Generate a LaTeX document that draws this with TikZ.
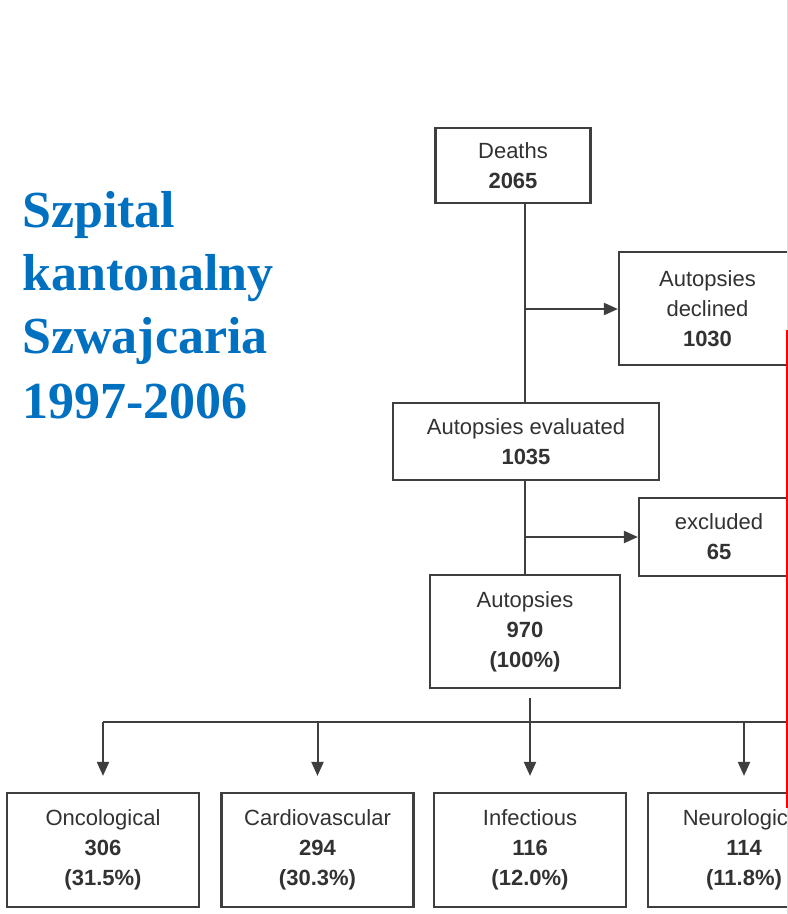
\documentclass[tikz,border=0pt]{standalone}
\usepackage{fontspec}
\setmainfont{Liberation Sans}
\newfontfamily\titlefont{Liberation Serif}
\usetikzlibrary{arrows.meta}
\definecolor{titleblue}{RGB}{0,112,192}
\definecolor{boxline}{RGB}{62,62,62}
\definecolor{boxtext}{RGB}{50,50,50}
\begin{document}
\begin{tikzpicture}[x=1pt,y=-1pt,
  box/.style={draw=boxline, line width=2.2pt, fill=white, rectangle, inner sep=0pt, align=center, text=boxtext, font=\fontsize{22}{30}\selectfont},
  catbox/.style={box, minimum width=192pt, minimum height=114pt},
  conn/.style={draw=boxline, line width=2pt},
  arr/.style={conn, -{Triangle[length=14pt,width=12pt]}},
  titletext/.style={anchor=base west, inner sep=0pt, text=titleblue, font=\titlefont\bfseries\fontsize{52}{63}\selectfont}]
\useasboundingbox (0,0) rectangle (788,914);
\clip (0,0) rectangle (788,914);
\fill[white] (0,0) rectangle (788,914);

% title
\node[titletext] (t1) at (22,227) {Szpital};
\node[titletext] (t2) at (22,290) {kantonalny};
\node[titletext] (t3) at (22,353) {Szwajcaria};
\node[titletext] (t4) at (22,418) {1997-2006};

% boxes
\node[box, minimum width=155pt, minimum height=75pt] (deaths) at (513,165.5) {Deaths\\\textbf{2065}};
\node[box, minimum width=177pt, minimum height=113pt] (declined) at (707.5,308.5) {Autopsies\\declined\\\textbf{1030}};
\node[box, minimum width=266pt, minimum height=77pt] (evaluated) at (526,441.5) {Autopsies evaluated\\\textbf{1035}};
\node[box, minimum width=160pt, minimum height=78pt] (excluded) at (719,537) {excluded\\\textbf{65}};
\node[box, minimum width=190pt, minimum height=113pt] (autopsies) at (525,631.5) {Autopsies\\\textbf{970}\\\textbf{(100\%)}};

\node[catbox] (onco) at (103,850) {Oncological\\\textbf{306}\\\textbf{(31.5\%)}};
\node[catbox] (cardio) at (317.5,850) {Cardiovascular\\\textbf{294}\\\textbf{(30.3\%)}};
\node[catbox] (infect) at (530,850) {Infectious\\\textbf{116}\\\textbf{(12.0\%)}};
\node[catbox] (neuro) at (744,850) {Neurological\\\textbf{114}\\\textbf{(11.8\%)}};

% connectors
\coordinate (spine) at (525,0);
\coordinate (b1) at (525,309);
\coordinate (b2) at (525,537);
\coordinate (top) at (530,698);
\coordinate (barL) at (103,722);
\coordinate (barR) at (800,722);

\draw[conn] (deaths.south -| spine) -- (evaluated.north -| spine);
\draw[arr] (b1) -- (declined.west |- b1);
\draw[conn] (evaluated.south -| spine) -- (autopsies.north -| spine);
\draw[arr] (b2) -- (excluded.west |- b2);

\draw[conn] (barL) -- (barR);
\draw[arr] (top) -- ([yshift=16pt]infect.north);
\draw[arr] (onco.north |- barL) -- ([yshift=16pt]onco.north);
\draw[arr] (cardio.north |- barL) -- ([yshift=16pt]cardio.north);
\draw[arr] (neuro.north |- barL) -- ([yshift=16pt]neuro.north);

% right edge marks
\draw[gray!25, line width=1pt] (787.5,0) -- (787.5,914);
\draw[red, line width=1.5pt] (787.2,330) -- (787.2,808);
\end{tikzpicture}
\end{document}
